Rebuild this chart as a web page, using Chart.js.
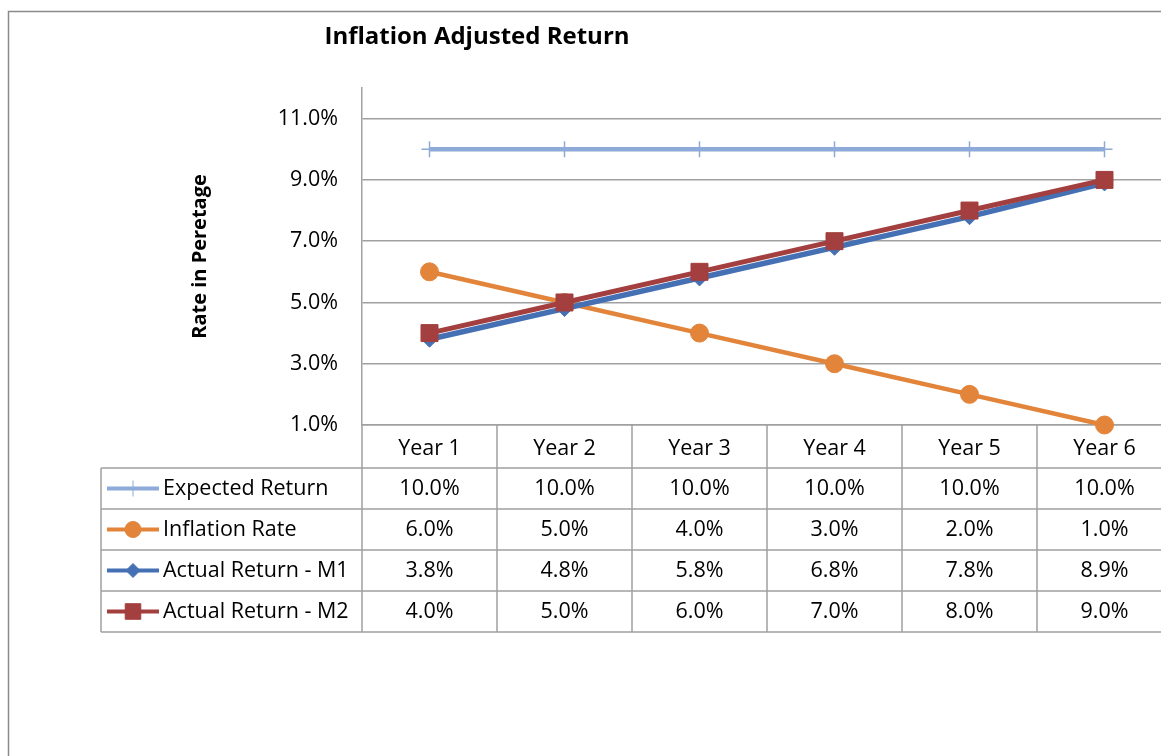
<!DOCTYPE html>
<html>
<head>
<meta charset="utf-8">
<script src="https://cdn.jsdelivr.net/npm/chart.js@4/dist/chart.umd.min.js"></script>
<style>
  html, body { margin: 0; padding: 0; background: #fff; overflow: hidden; }
  #wrap { position: absolute; left: 0; top: 0; width: 1200px; height: 800px; }
</style>
</head>
<body>
<div id="wrap"><canvas id="canvas"></canvas></div>
<script>
const categories = ['Year 1', 'Year 2', 'Year 3', 'Year 4', 'Year 5', 'Year 6'];
const expectedReturn = [10, 10, 10, 10, 10, 10];
const inflationRate = [6, 5, 4, 3, 2, 1];
const actualReturnM1 = [3.8, 4.8, 5.8, 6.8, 7.8, 8.9];
const actualReturnM2 = [4, 5, 6, 7, 8, 9];
const yTicks = [1, 3, 5, 7, 9, 11];

const FONT = "'Open Sans', sans-serif";
const TEXT_SIZE = 21.5;
const gridGray = '#a0a0a0';

// draws the frame, title and the data table under the plot
const tablePlugin = {
  id: 'dataTable',
  afterDraw(chart) {
    const ctx = chart.ctx;
    const x = chart.scales.x;
    const area = chart.chartArea;
    const half = (x.getPixelForValue(1) - x.getPixelForValue(0)) / 2;
    const headTop = area.bottom;
    const headBottom = headTop + 43;
    const rowH = 41;
    const legendLeft = 101;
    const tableBottom = headBottom + rowH * 4;

    ctx.save();
    // outer frame
    ctx.strokeStyle = '#8a8a8a';
    ctx.lineWidth = 1.5;
    ctx.strokeRect(8.5, 11.5, 1400, 1000);

    // title
    ctx.fillStyle = '#000';
    ctx.font = 'bold 24px ' + FONT;
    ctx.textAlign = 'center';
    ctx.textBaseline = 'middle';
    ctx.fillText('Inflation Adjusted Return', 477, 37);

    // table lines
    ctx.strokeStyle = gridGray;
    ctx.lineWidth = 1.5;
    ctx.beginPath();
    for (let i = 0; i <= categories.length; i++) {
      const px = x.getPixelForValue(0) - half + i * half * 2;
      ctx.moveTo(px, headTop);
      ctx.lineTo(px, tableBottom);
    }
    for (let r = 0; r <= 4; r++) {
      const py = headBottom + r * rowH;
      ctx.moveTo(legendLeft, py);
      ctx.lineTo(area.right, py);
    }
    ctx.moveTo(legendLeft, headBottom);
    ctx.lineTo(legendLeft, tableBottom);
    ctx.stroke();

    // rows: legend key + values
    chart.data.datasets.forEach((ds, r) => {
      const cy = headBottom + r * rowH + rowH / 2;
      ctx.strokeStyle = ds.borderColor;
      ctx.fillStyle = ds.borderColor;
      ctx.lineWidth = 4;
      ctx.beginPath();
      ctx.moveTo(107, cy);
      ctx.lineTo(159, cy);
      ctx.stroke();
      ctx.lineWidth = 1;
      Chart.helpers.drawPoint(ctx, {
        pointStyle: ds.pointStyle,
        radius: ds.legendRadius,
        borderWidth: ds.pointBorderWidth,
        rotation: 0
      }, 133, cy);
      ctx.fillStyle = '#000';
      ctx.font = TEXT_SIZE + 'px ' + FONT;
      ctx.textAlign = 'left';
      ctx.textBaseline = 'middle';
      ctx.fillText(ds.label, 163, cy);
      ctx.textAlign = 'center';
      ds.data.forEach((v, i) => {
        ctx.fillText(v.toFixed(1) + '%', x.getPixelForValue(i), cy);
      });
    });
    ctx.restore();
  }
};

function series(label, data, color, style, radius, legendRadius, width, order) {
  return {
    label: label,
    data: data,
    order: order,
    borderColor: color,
    backgroundColor: color,
    pointBackgroundColor: color,
    pointBorderColor: color,
    borderWidth: width,
    pointStyle: style,
    pointRadius: radius,
    pointHoverRadius: radius,
    legendRadius: legendRadius,
    pointBorderWidth: style === 'cross' ? 1.5 : 1,
    tension: 0,
    clip: false
  };
}

const datasets = [
  series('Expected Return', expectedReturn, '#8eaad8', 'cross', 8, 8, 4.5, 4),
  series('Inflation Rate', inflationRate, '#e2843a', 'circle', 9, 8, 4.5, 3),
  series('Actual Return - M1', actualReturnM1, '#4571b4', 'rectRot', 8, 7, 5.5, 2),
  series('Actual Return - M2', actualReturnM2, '#a33f3f', 'rect', 12, 11, 5, 1)
];

const ctx = document.getElementById('canvas');
new Chart(ctx, {
  type: 'line',
  data: { labels: categories, datasets: datasets },
  plugins: [tablePlugin],
  options: {
    responsive: true,
    maintainAspectRatio: false,
    animation: false,
    events: [],
    layout: {
      autoPadding: false,
      padding: { left: 0, top: 88, right: 28, bottom: 332 }
    },
    plugins: {
      legend: { display: false },
      title: { display: false },
      tooltip: { enabled: false }
    },
    scales: {
      x: {
        offset: true,
        grid: { display: false, drawTicks: false },
        border: { display: true, color: gridGray, width: 1.5 },
        ticks: {
          padding: 11,
          color: '#000',
          font: { family: FONT, size: TEXT_SIZE },
          maxRotation: 0
        },
        afterFit: (axis) => { axis.height = 43; }
      },
      y: {
        min: 1,
        max: 12,
        afterBuildTicks: (axis) => { axis.ticks = yTicks.map((v) => ({ value: v })); },
        afterFit: (axis) => { axis.width = 362; },
        grid: { color: gridGray, lineWidth: 1.5, drawTicks: false },
        border: { display: true, color: gridGray, width: 1.5 },
        ticks: {
          padding: 24,
          color: '#000',
          font: { family: FONT, size: TEXT_SIZE },
          callback: (v) => v.toFixed(1) + '%'
        },
        title: {
          display: true,
          text: 'Rate in Peretage',
          color: '#000',
          font: { family: FONT, size: 20, weight: 'bold' },
          padding: { top: 188, bottom: 0 }
        }
      }
    }
  }
});
</script>
</body>
</html>
